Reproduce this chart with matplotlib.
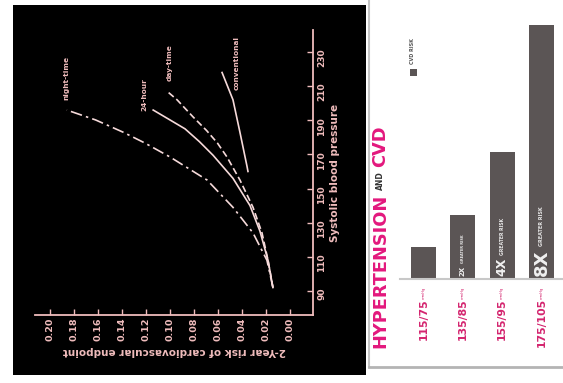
import numpy as np
import matplotlib
matplotlib.use("Agg")
import matplotlib.pyplot as plt
from matplotlib.patches import Rectangle
from matplotlib.lines import Line2D
from matplotlib.transforms import IdentityTransform

# ---------------- data: left chart (risk vs systolic BP) ----------------
sbp_night = [92, 108, 124, 139, 155, 168.5, 176.7, 183, 190.2, 196]
risk_night = [0.0142, 0.0192, 0.0308, 0.0475, 0.0691, 0.100, 0.121, 0.139, 0.162, 0.186]

sbp_24h = [92, 108, 125, 140, 156, 169.5, 177.5, 185, 190.2, 196]
risk_24h = [0.0142, 0.0183, 0.025, 0.0333, 0.0475, 0.0641, 0.0755, 0.0875, 0.100, 0.114]

sbp_day = [92, 108, 124, 139, 155, 168.5, 176.7, 184, 192, 202, 206.5]
risk_day = [0.0142, 0.0183, 0.0233, 0.0308, 0.0417, 0.0525, 0.0605, 0.0695, 0.0808, 0.0941, 0.1016]

sbp_conv = [160, 163, 183, 202, 218]
risk_conv = [0.035, 0.0358, 0.0417, 0.0475, 0.0566]

curve_names = ["night-time", "24-hour", "day-time", "conventional"]
curve_label_risk = [0.186, 0.121, 0.100, 0.0442]
curve_label_sbp = [215, 205, 224, 223.5]

risk_ticks = [0.00, 0.02, 0.04, 0.06, 0.08, 0.10, 0.12, 0.14, 0.16, 0.18, 0.20]
risk_ticklabels = ["0.00", "0.02", "0.04", "0.06", "0.08", "0.10", "0.12",
                   "0.14", "0.16", "0.18", "0.20"]
sbp_ticks = [90, 110, 130, 150, 170, 190, 210, 230]
sbp_ticklabels = ["90", "110", "130", "150", "170", "190", "210", "230"]

# ---------------- data: right chart (bars) ----------------
categories = ["115/75", "135/85", "155/95", "175/105"]
unit = "mmHg"
risk_mult = [1, 2, 4, 8]
bar_big = ["", "2X", "4X", "8X"]
bar_small = ["", "GREATER RISK", "GREATER RISK", "GREATER RISK"]
bar_big_size = [0, 5, 9, 13]
bar_small_size = [0, 2.5, 3.3, 3.5]

W, H = 563, 383
fig = plt.figure(figsize=(W / 100, H / 100), dpi=100)
fig.patch.set_facecolor("white")


def box(l, t, r, b):
    return [l / W, 1 - b / H, (r - l) / W, (b - t) / H]


def fx(x):
    return x / W


def fy(y):
    return 1 - y / H


pink = "#efbcbc"
line_col = "#f6dada"

# black background of left panel
fig.add_artist(Rectangle((fx(13), fy(375)), (366 - 13) / W, (375 - 5) / H,
                         transform=fig.transFigure, facecolor="black",
                         edgecolor="none", zorder=-5))

# ---------------- left chart (drawn rotated: x = risk, y = SBP) ----------------
ax1 = fig.add_axes(box(35, 30, 313, 315))
ax1.set_facecolor("none")
ax1.set_xlim(0.2125, -0.0192)
ax1.set_ylim(75.9, 242.9)

ax1.plot(risk_night, sbp_night, color=line_col, lw=1.2,
         linestyle=(0, (7, 2.5, 1.5, 2.5)))
ax1.plot(risk_24h, sbp_24h, color=line_col, lw=1.2, linestyle="-")
ax1.plot(risk_day, sbp_day, color=line_col, lw=1.2, linestyle=(0, (4, 2)))
ax1.plot(risk_conv, sbp_conv, color=line_col, lw=1.2, linestyle="-")

for name, r, s in zip(curve_names, curve_label_risk, curve_label_sbp):
    ax1.text(r, s, name, rotation=90, ha="center", va="center",
             fontsize=5.3, color=pink, fontweight="bold")

for side in ["top", "left"]:
    ax1.spines[side].set_visible(False)
for side in ["bottom", "right"]:
    ax1.spines[side].set_color(pink)
    ax1.spines[side].set_linewidth(1.3)

ax1.set_xticks(risk_ticks)
ax1.set_xticklabels(risk_ticklabels)
ax1.yaxis.tick_right()
ax1.set_yticks(sbp_ticks)
ax1.set_yticklabels(sbp_ticklabels)
ax1.tick_params(axis="x", direction="in", length=4, width=1, color=pink,
                labelcolor=pink, labelsize=6.8, labelrotation=90, pad=2)
ax1.tick_params(axis="y", direction="in", length=4, width=1, color=pink,
                labelcolor=pink, labelsize=6.5, labelrotation=90, pad=3)
for lab in ax1.get_xticklabels() + ax1.get_yticklabels():
    lab.set_fontweight("bold")

ax1.set_xlabel("2-Year risk of cardiovascular endpoint", rotation=180,
               color=pink, fontsize=7.5, labelpad=3, fontweight="bold")
ax1.yaxis.set_label_position("right")
ax1.set_ylabel("Systolic blood pressure", rotation=90, color=pink,
               fontsize=7.5, labelpad=3, fontweight="bold")

# ---------------- right panel frame ----------------
fig.add_artist(Line2D([fx(369), fx(369)], [fy(0), fy(367)],
                      transform=fig.transFigure, color="#c4c4c4", lw=1.5))
fig.add_artist(Line2D([fx(369), 1], [fy(367), fy(367)],
                      transform=fig.transFigure, color="#b4b4b4", lw=2))

# ---------------- right chart (drawn rotated: vertical bars) ----------------
ax2 = fig.add_axes(box(400, 5, 563, 279))
ax2.set_facecolor("none")
ax2.set_xlim(-0.6, 3.55)
ax2.set_ylim(0, 274 / 31.8)
ax2.bar(range(len(risk_mult)), risk_mult, width=0.64, color="#5b5555")
for side in ["top", "left", "right"]:
    ax2.spines[side].set_visible(False)
ax2.spines["bottom"].set_color("#c8c8c8")
ax2.spines["bottom"].set_linewidth(1.5)
ax2.set_xticks([])
ax2.set_yticks([])

magenta = "#e3187d"
cat_col = "#d4256f"
big_texts = []
for i, (cat, bt, bs) in enumerate(zip(categories, bar_big, bar_big_size)):
    ax2.annotate(cat, xy=(i, 0), xytext=(0, -19), textcoords="offset pixels",
                 rotation=90, ha="center", va="top", fontsize=7.8,
                 color=cat_col, fontweight="bold", annotation_clip=False)
    ax2.annotate(unit, xy=(i, 0), xytext=(0, -8), textcoords="offset pixels",
                 rotation=90, ha="center", va="top", fontsize=2.6,
                 color=cat_col, annotation_clip=False)
    if bt:
        t = ax2.annotate(bt, xy=(i, 0), xytext=(0, 3), textcoords="offset pixels",
                         rotation=90, ha="center", va="bottom", fontsize=bs,
                         color="#f0f0f0", fontweight="bold")
        big_texts.append((i, t))

fig.canvas.draw()
renderer = fig.canvas.get_renderer()
for i, t in big_texts:
    bb = t.get_window_extent(renderer)
    xc = (bb.x0 + bb.x1) / 2
    fig.text(xc, bb.y1 + 3, bar_small[i], transform=IdentityTransform(),
             rotation=90, ha="center", va="bottom",
             fontsize=bar_small_size[i], color="#e6e6e6", fontweight="bold")

# title, rotated
title_x = 380
t1 = fig.text(title_x, H - 348, "HYPERTENSION", transform=IdentityTransform(),
              rotation=90, ha="center", va="bottom", fontsize=12.8,
              color=magenta, fontweight="bold")
fig.canvas.draw()
bb = t1.get_window_extent(renderer)
t2 = fig.text(title_x, bb.y1 + 4, "AND", transform=IdentityTransform(),
              rotation=90, ha="center", va="bottom", fontsize=5.5,
              color="#333333", fontweight="bold")
fig.canvas.draw()
bb = t2.get_window_extent(renderer)
fig.text(title_x, bb.y1 + 4, "CVD", transform=IdentityTransform(),
         rotation=90, ha="center", va="bottom", fontsize=12.8,
         color=magenta, fontweight="bold")

# legend (rotated)
fig.add_artist(Rectangle((fx(409.5), fy(76)), 7 / W, 7 / H,
                         transform=fig.transFigure, facecolor="#5b5555",
                         edgecolor="none"))
fig.text(413, H - 64, "CVD RISK", transform=IdentityTransform(), rotation=90,
         ha="center", va="bottom", fontsize=3.5, color="#555555",
         fontweight="bold")

fig.savefig("out.png", dpi=100, facecolor="white")
